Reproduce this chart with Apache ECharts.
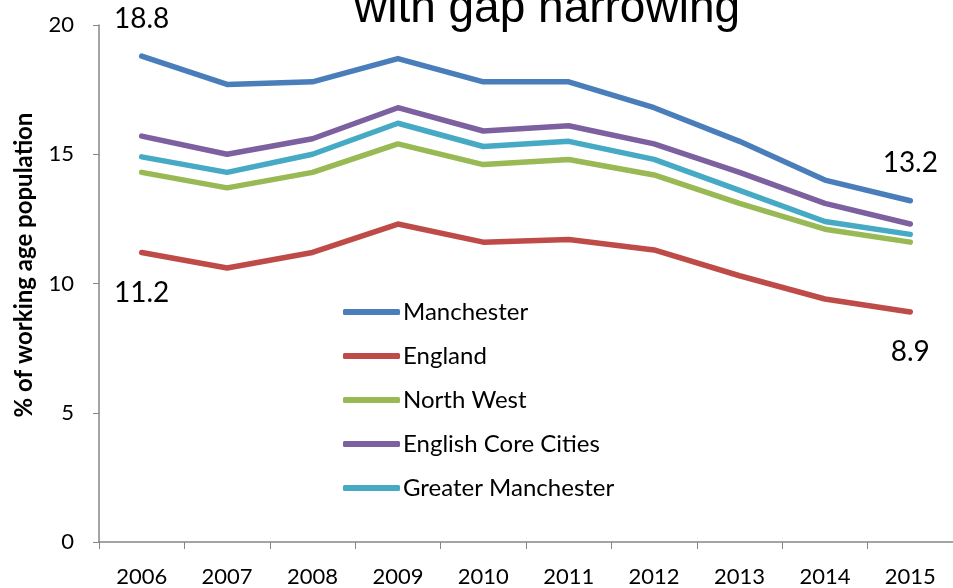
<!DOCTYPE html>
<html>
<head>
<meta charset="utf-8">
<script src="https://cdn.jsdelivr.net/npm/echarts@6/dist/echarts.min.js"></script>
<style>
  html, body { margin: 0; padding: 0; background: #fff; }
  #chart { width: 953px; height: 588px; }
</style>
</head>
<body>
<div id="chart"></div>
<script>
// Years on the category axis
const years = ['2006', '2007', '2008', '2009', '2010', '2011', '2012', '2013', '2014', '2015'];

// Share of working age population (%) per area
const manchester = [18.8, 17.7, 17.8, 18.7, 17.8, 17.8, 16.8, 15.5, 14.0, 13.2];
const england = [11.2, 10.6, 11.2, 12.3, 11.6, 11.7, 11.3, 10.3, 9.4, 8.9];
const northWest = [14.3, 13.7, 14.3, 15.4, 14.6, 14.8, 14.2, 13.1, 12.1, 11.6];
const coreCities = [15.7, 15.0, 15.6, 16.8, 15.9, 16.1, 15.4, 14.3, 13.1, 12.3];
const greaterManchester = [14.9, 14.3, 15.0, 16.2, 15.3, 15.5, 14.8, 13.6, 12.4, 11.9];

const yTicks = [0, 5, 10, 15, 20];

const colors = {
  manchester: '#4a7ebb',
  england: '#be4b48',
  northWest: '#98b954',
  coreCities: '#7d60a0',
  greaterManchester: '#46aac5'
};

const bodyFont = 'Lato, "Open Sans", sans-serif';

function lineSeries(name, values, color) {
  return {
    name: name,
    type: 'line',
    data: values,
    symbol: 'none',
    lineStyle: { color: color, width: 5.5, cap: 'round', join: 'round' },
    itemStyle: { color: color },
    emphasis: { disabled: true },
    animation: false,
    z: 2
  };
}

// Invisible points at the first and last year carrying the value labels
function endLabelSeries(values, position) {
  const last = values.length - 1;
  return {
    type: 'scatter',
    data: [[years[0], values[0]], [years[last], values[last]]],
    symbolSize: 1,
    itemStyle: { color: 'rgba(0,0,0,0)' },
    silent: true,
    animation: false,
    z: 3,
    label: {
      show: true,
      position: position,
      distance: position === 'top' ? 23 : 26,
      formatter: p => p.value[1].toFixed(1),
      fontFamily: bodyFont,
      fontSize: 28,
      color: '#000',
      opacity: 1,
      textBorderWidth: 0
    }
  };
}

const chart = echarts.init(document.getElementById('chart'));
chart.setOption({
  backgroundColor: '#fff',
  title: {
    text: 'with gap narrowing',
    left: 542,
    textAlign: 'center',
    top: -19,
    textStyle: { fontFamily: 'Liberation Sans, Arial, sans-serif', fontSize: 46, fontWeight: 'normal', color: '#000' }
  },
  graphic: [{
    type: 'text',
    x: 24,
    y: 265,
    rotation: Math.PI / 2,
    style: {
      text: '% of working age population',
      fontFamily: bodyFont,
      fontSize: 24,
      fontWeight: 'bold',
      fill: '#000',
      align: 'center',
      verticalAlign: 'middle'
    }
  }],
  grid: { left: 99, top: 25, right: -2, bottom: 46, containLabel: false },
  legend: {
    orient: 'vertical',
    left: 338,
    top: 295,
    itemGap: 20,
    itemWidth: 57,
    itemHeight: 6,
    icon: 'roundRect',
    textStyle: { fontFamily: bodyFont, fontSize: 24, lineHeight: 24, color: '#000', padding: [0, 0, 0, -2] },
    data: ['Manchester', 'England', 'North West', 'English Core Cities', 'Greater Manchester']
  },
  xAxis: {
    type: 'category',
    data: years,
    boundaryGap: true,
    axisLine: { lineStyle: { color: '#868686', width: 1.5 } },
    axisTick: { show: true, length: 7, lineStyle: { color: '#868686' } },
    axisLabel: { fontFamily: bodyFont, fontSize: 22, color: '#000', margin: 24 }
  },
  yAxis: {
    type: 'value',
    min: yTicks[0],
    max: yTicks[yTicks.length - 1],
    interval: 5,
    axisLine: { show: true, lineStyle: { color: '#868686', width: 1.5 } },
    axisTick: { show: true, length: 6, lineStyle: { color: '#868686' } },
    splitLine: { show: false },
    axisLabel: { fontFamily: bodyFont, fontSize: 22, color: '#000', margin: 25 }
  },
  series: [
    lineSeries('Manchester', manchester, colors.manchester),
    lineSeries('England', england, colors.england),
    lineSeries('North West', northWest, colors.northWest),
    lineSeries('English Core Cities', coreCities, colors.coreCities),
    lineSeries('Greater Manchester', greaterManchester, colors.greaterManchester),
    endLabelSeries(manchester, 'top'),
    endLabelSeries(england, 'bottom')
  ]
});
</script>
</body>
</html>
